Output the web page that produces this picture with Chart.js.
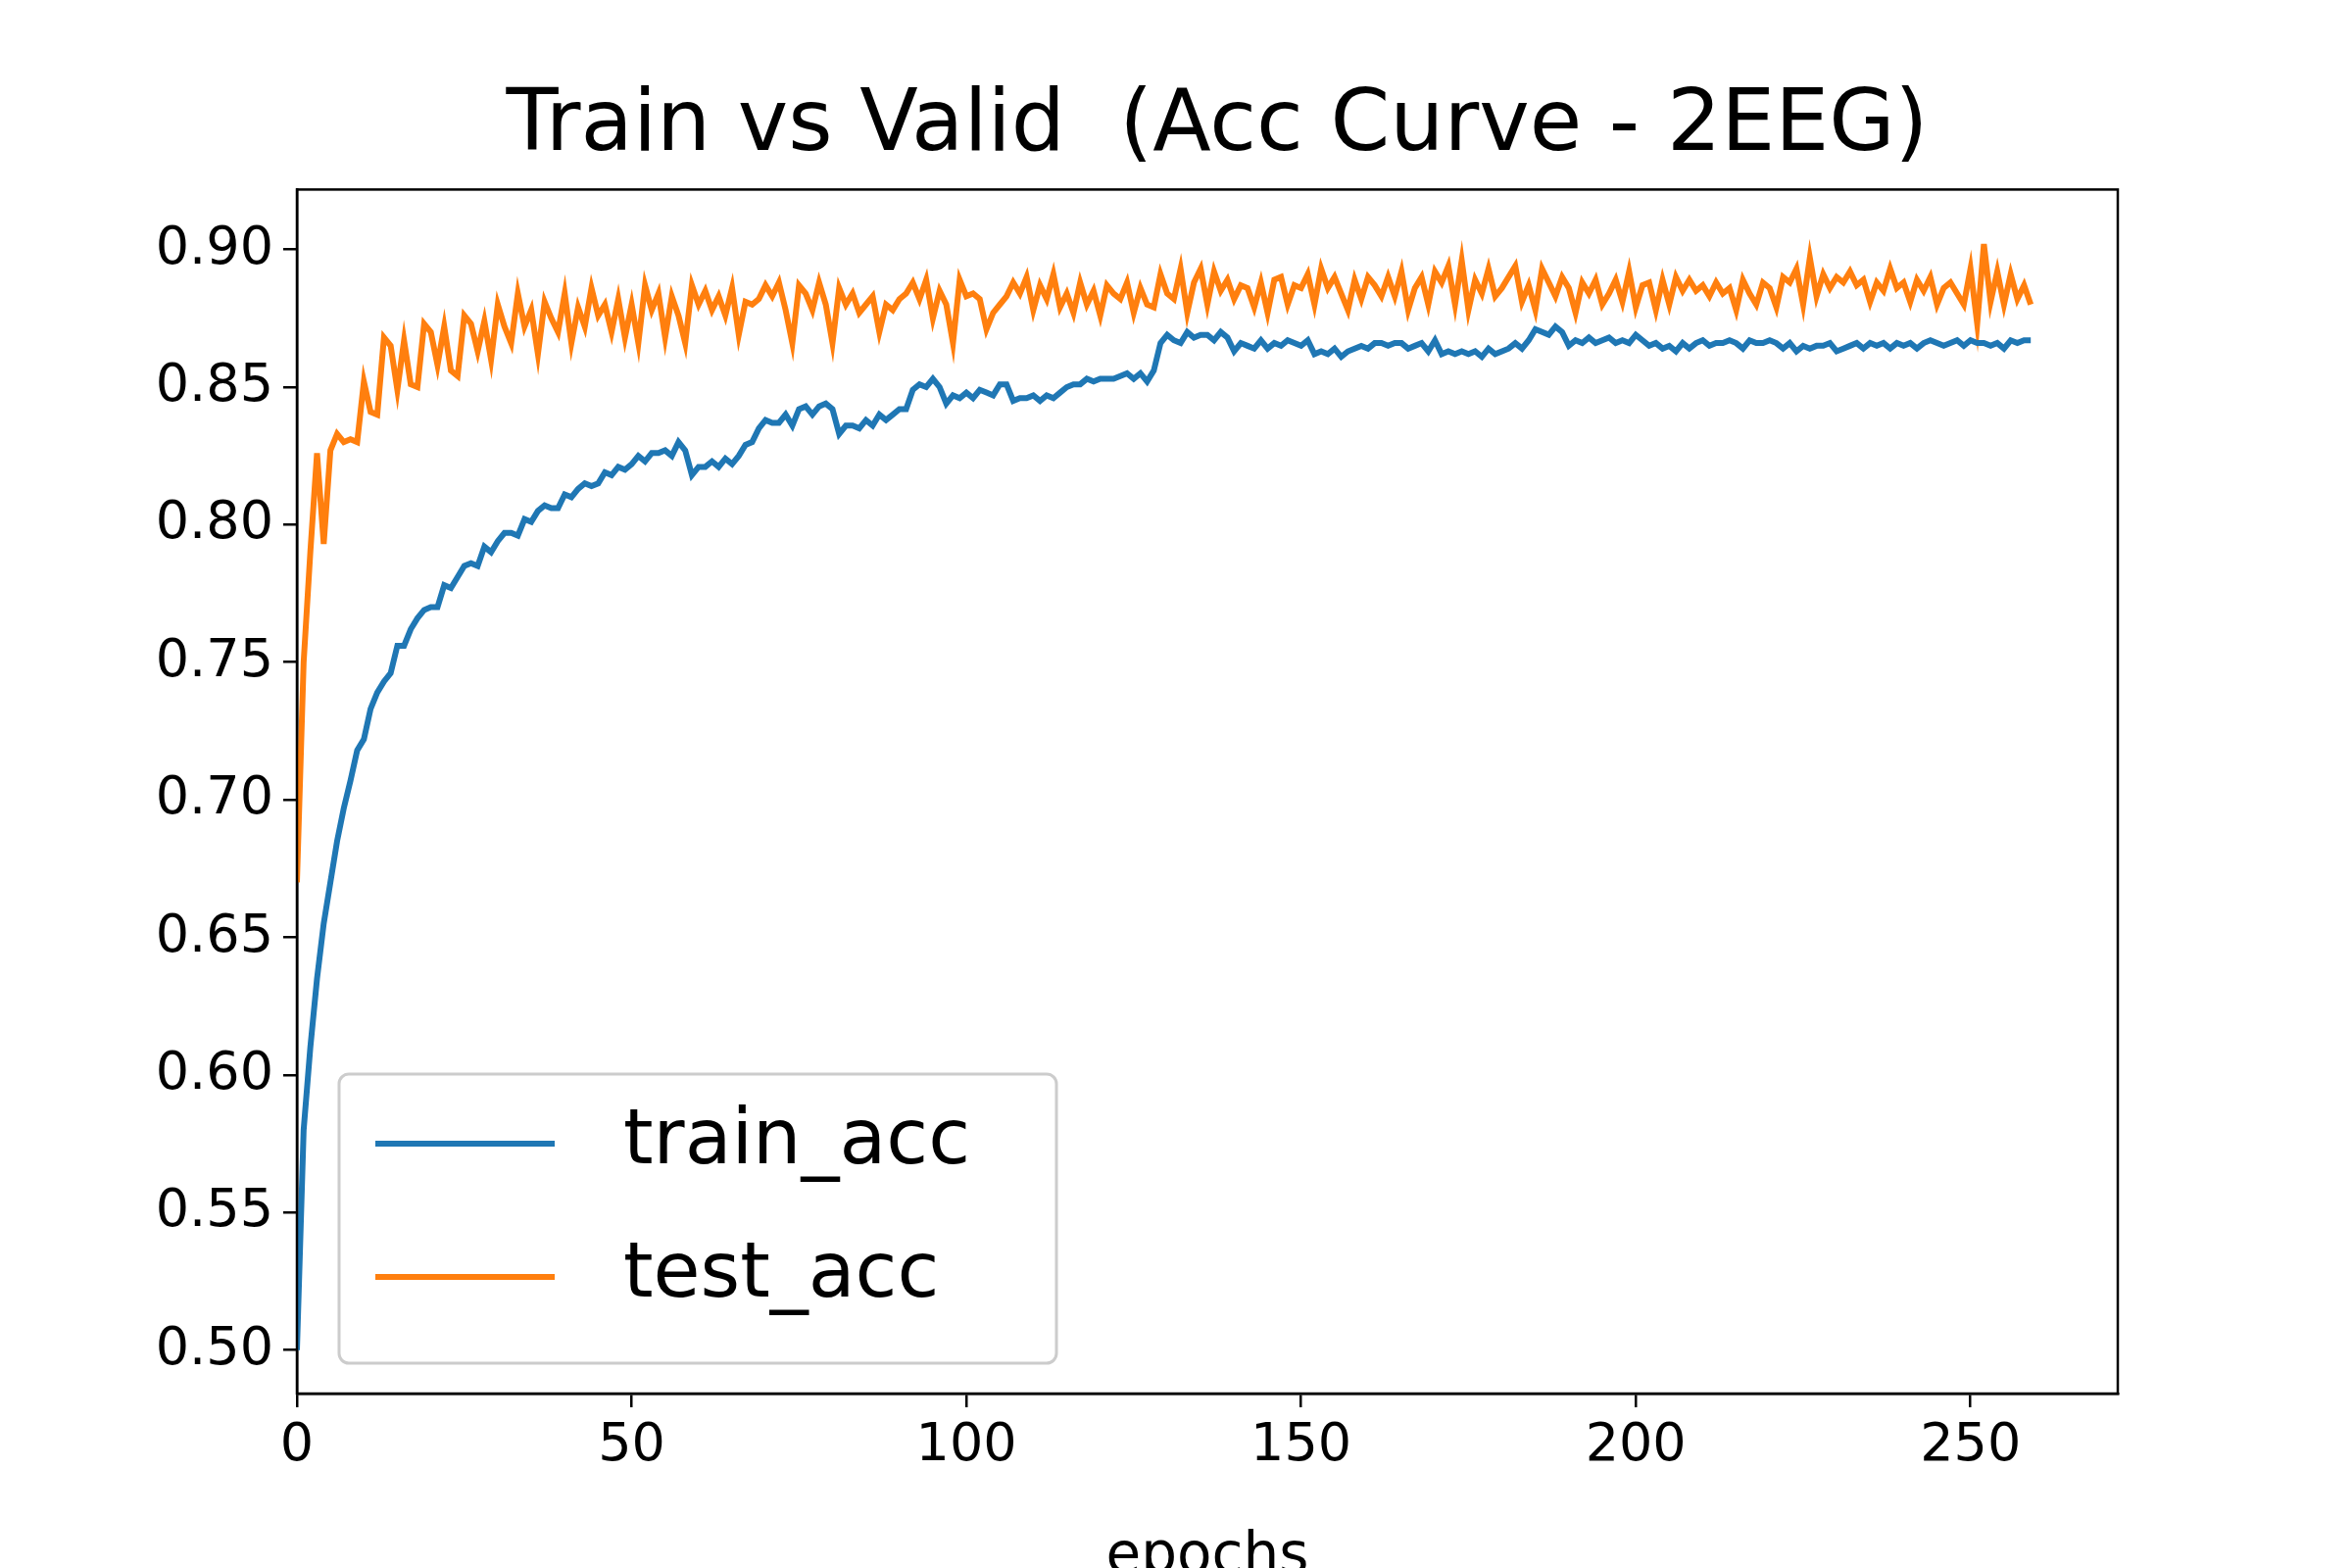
<!DOCTYPE html>
<html>
<head>
<meta charset="utf-8">
<script src="https://cdn.jsdelivr.net/npm/chart.js@4/dist/chart.umd.min.js"></script>
<style>
body{margin:0;background:#fff;}
#wrap{width:2400px;height:1600px;}
</style>
</head>
<body>
<div id="wrap"><canvas id="accChart" width="2400" height="1600"></canvas></div>
<script>
const trainAcc=[
.500,.580,.610,.635,.655,.670,.685,.697,.707,.718,.722,.733,.739,.743,.746,.756,.756,.762,.766,.769,
.770,.770,.778,.777,.781,.785,.786,.785,.792,.790,.794,.797,.797,.796,.802,.801,.805,.807,.806,.806,
.811,.810,.813,.815,.814,.815,.819,.818,.821,.820,.822,.825,.823,.826,.826,.827,.825,.830,.827,.818,
.821,.821,.823,.821,.824,.822,.825,.829,.830,.835,.838,.837,.837,.840,.836,.842,.843,.840,.843,.844,
.842,.833,.836,.836,.835,.838,.836,.840,.838,.840,.842,.842,.849,.851,.850,.853,.850,.844,.847,.846,
.848,.846,.849,.848,.847,.851,.851,.845,.846,.846,.847,.845,.847,.846,.848,.850,.851,.851,.853,.852,
.853,.853,.853,.854,.855,.853,.855,.852,.856,.866,.869,.867,.866,.870,.868,.869,.869,.867,.870,.868,
.863,.866,
.865,.864,.867,.864,.866,.865,.867,.866,.865,.867,.862,.863,.862,.864,.861,.863,.864,.865,.864,.866,
.866,.865,.866,.866,.864,.865,.866,.863,.867,.862,.863,.862,.863,.862,.863,.861,.864,.862,.863,.864,
.866,.864,.867,.871,.870,.869,.872,.870,.865,.867,.866,.868,.866,.867,.868,.866,.867,.866,.869,.867,
.865,.866,.864,.865,.863,.866,.864,.866,.867,.865,.866,.866,.867,.866,.864,.867,.866,.866,.867,.866,
.864,.866,.863,.865,.864,.865,.865,.866,.863,.864,.865,.866,.864,.866,.865,.866,.864,.866,.865,.866,
.864,.866,.867,.866,.865,.866,.867,.865,.867,.866,.866,.865,.866,.864,.867,.866,.867,.867
];
const testAcc=[
.670,.750,.790,.826,.793,.827,.833,.830,.831,.830,.852,.841,.840,.868,.865,.849,.867,.851,.850,.873,
.870,.858,.872,.856,.854,.876,.873,.863,.874,.860,
.880,.872,.866,.884,.872,.878,.862,.881,.875,.870,.884,.866,.879,.872,.886,.876,.880,.870,.882,.868,
.880,.866,.887,.878,.884,.868,.883,.876,.866,.887,.880,.885,.878,.883,.876,.886,.869,.881,.880,.882,
.887,.883,.888,.878,.866,.887,.884,.878,.888,.880,.866,.886,.880,.884,.877,.880,.883,.870,.880,.878,
.882,.884,.888,.882,.889,.875,.885,.880,.866,.889,.883,.884,.882,.871,.877,.880,.883,.888,.884,.890,
.878,.887,.882,.891,.879,.884,.877,.888,.880,.885,.876,.887,.884,.882,.888,.877,.886,.880,.879,.891,
.884,.882,.893,.877,.888,.893,.880,.892,.885,.889,.882,.887,.886,.879,.888,.877,.889,.890,.880,.887,
.886,.891,.880,.893,.886,.890,.884,.878,.889,.882,.890,.887,.883,.890,.883,.892,.878,.886,.890,.880,
.892,.888,.894,.880,.896,.878,.889,.884,.893,.883,.886,.890,.894,.881,.887,.878,.893,.888,.883,.890,
.886,.877,.888,.884,.889,.880,.884,.889,.881,.892,.879,.887,.888,.878,.889,.880,.890,.885,.889,.885,
.887,.883,.888,.884,.886,.878,.889,.884,.880,.888,.886,.879,.890,.888,.893,.880,.897,.883,.891,.886,
.890,.888,.892,.887,.889,.881,.888,.885,.893,.886,.888,.881,.889,.885,.890,.880,.886,.888,.884,.880,
.893,.873,.902,.881,.892,.880,.891,.882,.887,.880
];
const xTicks=[0,50,100,150,200,250];
const yTicks=[0.50,0.55,0.60,0.65,0.70,0.75,0.80,0.85,0.90];

const toPoints=arr=>arr.map((v,i)=>({x:i,y:v}));
const font='"DejaVu Sans", sans-serif';

// frame + legend box like matplotlib
const framePlugin={
  id:'frame',
  afterDatasetsDraw(chart){
    const {ctx,chartArea:a}=chart;
    ctx.save();
    ctx.strokeStyle='#000';ctx.lineWidth=2.5;
    ctx.strokeRect(a.left,a.top,a.right-a.left,a.bottom-a.top);
    // legend
    const bx=346,by=1096,bw=732,bh=295;
    ctx.fillStyle='rgba(255,255,255,0.8)';
    ctx.strokeStyle='#cccccc';ctx.lineWidth=3;
    ctx.beginPath();ctx.roundRect(bx,by,bw,bh,10);ctx.fill();ctx.stroke();
    ctx.font='78px '+font;ctx.textBaseline='middle';
    chart.data.datasets.forEach((ds,i)=>{
      const y=1167+i*136;
      ctx.strokeStyle=ds.borderColor;ctx.lineWidth=6;
      ctx.beginPath();ctx.moveTo(383,y);ctx.lineTo(566,y);ctx.stroke();
      ctx.fillStyle='#000';ctx.fillText(ds.label,636,y);
    });
    ctx.restore();
  }
};

new Chart(document.getElementById('accChart'),{
  type:'line',
  data:{datasets:[
    {label:'train_acc',data:toPoints(trainAcc),borderColor:'#1f77b4',borderWidth:6,pointRadius:0,tension:0},
    {label:'test_acc',data:toPoints(testAcc),borderColor:'#ff7f0e',borderWidth:6,pointRadius:0,tension:0}
  ]},
  options:{
    responsive:false,animation:false,
    layout:{padding:{left:84,right:0,top:0,bottom:0}},
    plugins:{
      legend:{display:false},
      tooltip:{enabled:false},
      title:{display:true,text:'Train vs Valid  (Acc Curve - 2EEG)',color:'#000',
        font:{family:font,size:87,weight:'normal'},padding:{top:78,bottom:11},lineHeight:1.2}
    },
    scales:{
      x:{type:'linear',min:0,max:272,
        afterBuildTicks(s){s.ticks=xTicks.map(v=>({value:v}));},
        afterFit(s){s.height=178;},
        grid:{drawOnChartArea:false,color:'#000',tickLength:14,lineWidth:2.5},
        border:{display:true,color:'#000',width:2.5},
        ticks:{color:'#000',font:{family:font,size:54},padding:8,maxRotation:0},
        title:{display:true,text:'epochs',color:'#000',font:{family:font,size:58},padding:{top:0,bottom:-25}}
      },
      y:{min:0.4842,max:0.9218,
        afterBuildTicks(s){s.ticks=yTicks.map(v=>({value:v}));},
        afterFit(s){s.width=219;},
        grid:{drawOnChartArea:false,color:'#000',tickLength:14,lineWidth:2.5},
        border:{display:true,color:'#000',width:2.5},
        ticks:{color:'#000',font:{family:font,size:54},padding:10,callback:v=>v.toFixed(2)}
      },
      yRight:{position:'right',min:0,max:1,
        afterFit(s){s.width=239;},
        grid:{display:false},border:{display:false},ticks:{display:false}
      }
    }
  },
  plugins:[framePlugin]
});
</script>
</body>
</html>
